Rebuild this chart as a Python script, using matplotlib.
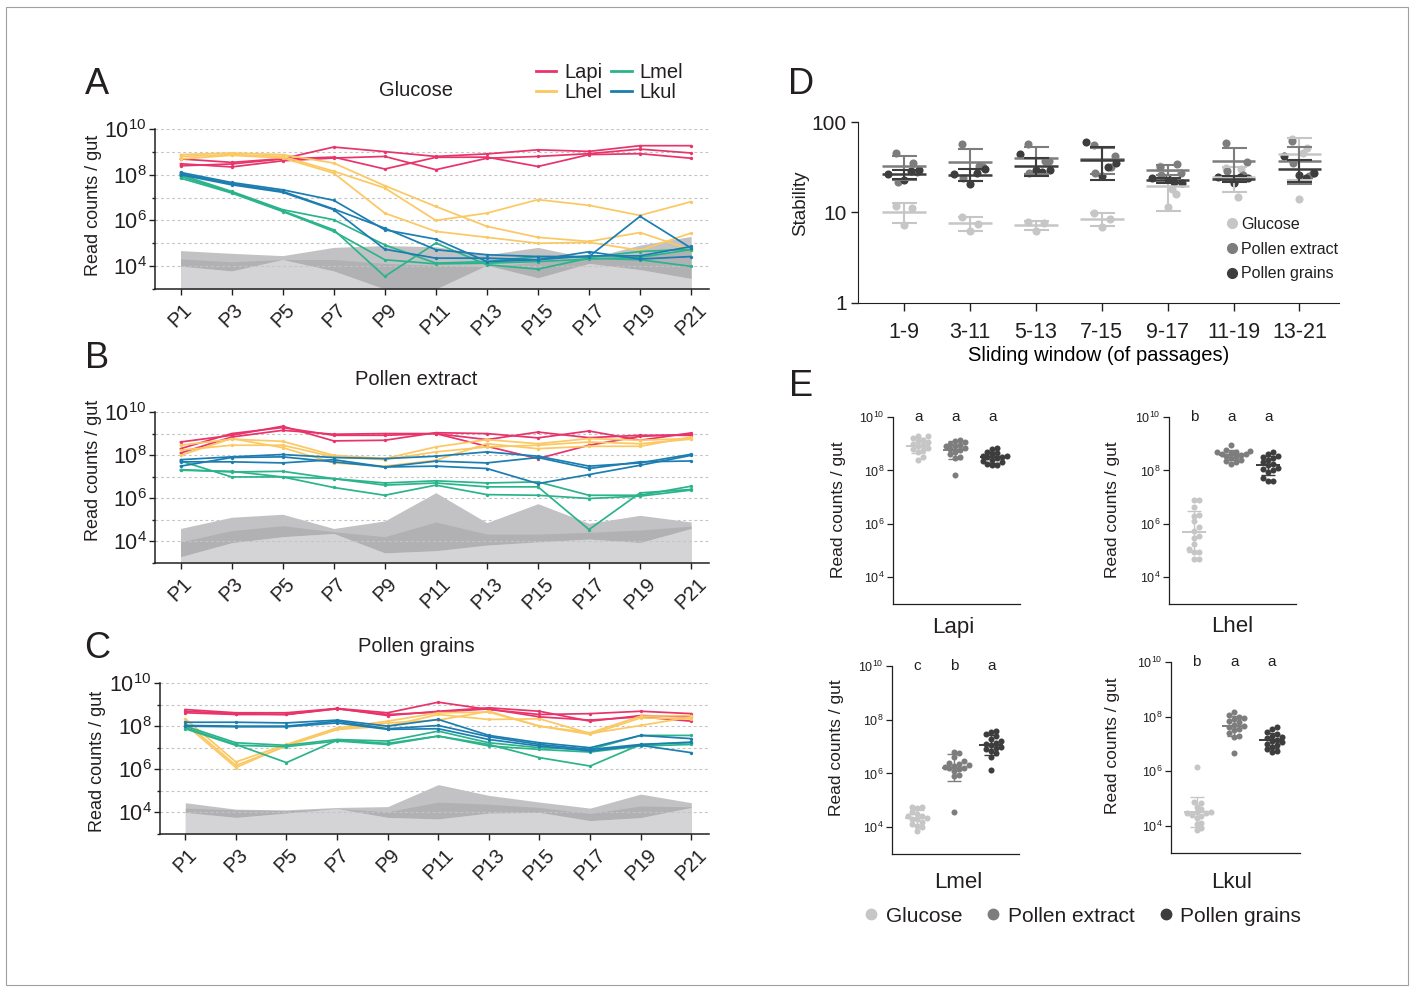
import numpy as np
import matplotlib
matplotlib.use("agg")
import matplotlib.pyplot as plt
from matplotlib.lines import Line2D
from matplotlib.patches import Rectangle
from matplotlib.ticker import FixedLocator, NullFormatter, NullLocator

plt.rcParams['font.family'] = ['Liberation Sans', 'DejaVu Sans']
plt.rcParams['mathtext.fontset'] = 'custom'
plt.rcParams['mathtext.rm'] = 'Liberation Sans'
plt.rcParams['mathtext.it'] = 'Liberation Sans:italic'
plt.rcParams['mathtext.bf'] = 'Liberation Sans:bold'
plt.rcParams['text.color'] = '#231f20'
plt.rcParams['axes.edgecolor'] = '#231f20'
plt.rcParams['xtick.color'] = '#231f20'
plt.rcParams['ytick.color'] = '#231f20'

# ---------------- data ----------------
passages = ['P1', 'P3', 'P5', 'P7', 'P9', 'P11', 'P13', 'P15', 'P17', 'P19', 'P21']
species = ['Lapi', 'Lhel', 'Lmel', 'Lkul']
sp_colors = ['#e8336b', '#fbc862', '#2bb48b', '#1b7db0']

# log10(read counts / gut), three replicate lines per species
glu_lapi = [[8.69, 8.54, 8.70, 9.21, 9.01, 8.80, 8.91, 9.09, 9.02, 9.27, 9.27],
            [8.48, 8.34, 8.61, 8.73, 8.80, 8.22, 8.72, 8.80, 8.92, 9.12, 8.95],
            [8.39, 8.47, 8.69, 8.77, 8.25, 8.76, 8.77, 8.36, 8.88, 8.92, 8.72]]
glu_lhel = [[8.88, 8.95, 8.88, 8.51, 7.52, 6.61, 5.74, 5.26, 5.08, 5.47, 4.72],
            [8.80, 8.88, 8.80, 8.15, 7.42, 6.00, 6.32, 6.91, 6.66, 6.22, 6.82],
            [8.69, 8.85, 8.73, 8.07, 6.32, 5.52, 5.26, 5.00, 5.04, 4.69, 5.45]]
glu_lmel = [[8.00, 7.27, 6.47, 6.03, 4.93, 4.13, 4.20, 4.42, 4.38, 4.64, 4.74],
            [7.93, 7.23, 6.42, 5.59, 3.55, 5.01, 4.06, 3.87, 4.35, 4.28, 3.99],
            [7.85, 7.20, 6.39, 5.52, 4.28, 4.10, 4.13, 4.20, 4.31, 4.39, 4.72]]
glu_lkul = [[8.10, 7.66, 7.34, 6.88, 5.59, 5.18, 4.20, 4.28, 4.63, 4.31, 4.42],
            [8.04, 7.61, 7.27, 6.50, 5.66, 4.72, 4.50, 4.42, 4.42, 6.18, 4.79],
            [8.00, 7.56, 7.23, 6.47, 4.74, 4.35, 4.35, 4.28, 4.45, 4.45, 4.86]]
glu_bg_hi = [4.68, 4.56, 4.46, 4.82, 4.90, 4.85, 4.50, 4.82, 4.35, 4.92, 5.30]
glu_bg_mid = [4.32, 4.19, 4.29, 4.29, 4.12, 4.04, 3.97, 4.19, 4.34, 4.41, 4.70]
glu_bg_lo = [4.00, 3.79, 4.29, 3.79, 3.00, 3.00, 4.04, 3.49, 4.12, 3.85, 3.46]

ext_lapi = [[8.61, 8.92, 9.34, 8.66, 8.69, 9.04, 9.00, 8.80, 9.12, 8.69, 9.03],
            [8.30, 9.00, 9.28, 8.92, 8.92, 9.00, 8.72, 9.07, 8.81, 8.92, 8.92],
            [8.10, 8.84, 9.15, 8.97, 9.00, 9.00, 8.41, 7.84, 8.46, 8.87, 8.97]]
ext_lhel = [[8.46, 8.74, 8.64, 7.99, 7.84, 8.38, 8.72, 8.53, 8.77, 8.69, 8.77],
            [8.23, 8.46, 8.46, 7.92, 7.79, 8.15, 8.38, 8.46, 8.61, 8.53, 8.74],
            [7.99, 8.77, 8.35, 7.64, 7.49, 7.76, 8.53, 8.30, 8.41, 8.41, 8.84]]
ext_lmel = [[7.73, 6.99, 6.99, 6.91, 6.71, 6.81, 6.71, 6.76, 6.14, 6.14, 6.56],
            [7.33, 7.22, 7.25, 6.91, 6.61, 6.71, 6.53, 6.53, 4.55, 6.25, 6.41],
            [7.30, 7.25, 6.99, 6.50, 6.14, 6.61, 6.17, 6.14, 5.99, 6.10, 6.38]]
ext_lkul = [[7.79, 7.92, 8.03, 7.89, 7.84, 7.95, 8.15, 7.95, 7.49, 7.64, 8.04],
            [7.69, 7.69, 7.64, 7.79, 7.45, 7.72, 7.64, 7.89, 7.38, 7.69, 7.73],
            [7.49, 7.89, 7.92, 7.69, 7.45, 7.49, 7.38, 6.68, 7.10, 7.53, 7.99]]
ext_bg_hi = [4.60, 5.12, 5.26, 4.60, 4.95, 6.26, 4.87, 5.75, 4.84, 5.21, 4.90]
ext_bg_mid = [3.98, 4.50, 4.73, 4.45, 4.22, 4.90, 4.34, 4.34, 4.42, 4.53, 4.71]
ext_bg_lo = [3.29, 3.94, 4.22, 4.37, 3.47, 3.57, 3.83, 3.98, 4.11, 3.95, 4.60]

grn_lapi = [[8.77, 8.62, 8.62, 8.82, 8.62, 9.11, 8.77, 8.54, 8.58, 8.69, 8.58],
            [8.69, 8.58, 8.54, 8.82, 8.49, 8.69, 8.85, 8.69, 8.23, 8.49, 8.43],
            [8.62, 8.54, 8.54, 8.80, 8.54, 8.65, 8.80, 8.43, 8.28, 8.43, 8.23]]
grn_lhel = [[8.34, 6.34, 7.15, 7.92, 8.23, 8.62, 8.65, 8.00, 7.69, 8.46, 8.49],
            [8.18, 6.18, 7.08, 7.85, 8.00, 8.54, 8.31, 8.34, 7.66, 8.03, 8.43],
            [8.08, 6.08, 7.11, 7.85, 8.15, 8.28, 8.69, 8.00, 7.62, 8.38, 8.34]]
grn_lmel = [[8.00, 7.23, 7.11, 7.38, 7.31, 7.77, 7.23, 7.00, 6.92, 7.57, 7.57],
            [7.92, 7.15, 6.31, 7.35, 7.20, 7.54, 7.15, 6.54, 6.15, 7.15, 7.23],
            [7.88, 7.11, 7.05, 7.31, 7.15, 7.54, 7.08, 6.92, 6.80, 7.08, 7.15]]
grn_lkul = [[8.18, 8.18, 8.15, 8.28, 8.00, 8.31, 7.57, 7.23, 7.00, 7.57, 7.42],
            [8.03, 8.00, 8.00, 8.23, 7.88, 8.03, 7.51, 7.15, 6.92, 7.15, 7.26],
            [8.00, 7.97, 7.97, 8.15, 7.85, 7.88, 7.38, 7.08, 6.85, 7.11, 6.77]]
grn_bg_hi = [4.45, 4.15, 4.12, 4.23, 4.27, 5.29, 4.79, 4.48, 4.20, 4.85, 4.45]
grn_bg_mid = [4.20, 4.12, 4.08, 4.18, 4.03, 4.48, 4.38, 4.23, 3.95, 4.30, 4.26]
grn_bg_lo = [4.00, 3.77, 3.97, 4.18, 3.77, 3.70, 3.97, 4.00, 3.62, 3.76, 4.23]

# panel D: stability per sliding window
windows = ['1-9', '3-11', '5-13', '7-15', '9-17', '11-19', '13-21']
stab_glucose = [[11.9, 11.2, 7.2], [9.0, 7.4, 6.3], [7.8, 7.7, 6.2], [9.9, 8.5, 7.0],
                [33, 16.1, 11.4, 18], [31, 30, 22, 15], [65, 52, 14, 46]]
stab_extract = [[45, 35, 22, 28], [57, 33, 24, 32], [57.5, 36.7, 27.2, 37], [56, 31.8, 27.2, 42],
                [31.8, 34.3, 26.1, 27], [58.6, 26.1, 28.9, 36], [61, 25, 35, 27]]
stab_grains = [[26.3, 29.2, 22.6, 28.5], [26.8, 30.4, 20.6, 27], [44, 29.6, 29.6, 28], [60, 35.2, 25.5, 32],
               [24, 21.1, 23.5, 21.8], [24.5, 24, 21.1, 24.5], [42.4, 27.2, 26.1, 24]]

# panel E: log10(read counts / gut) per strain and diet
conditions = ['Glucose', 'Pollen extract', 'Pollen grains']
cond_colors = ['#c6c6c6', '#7d7d7d', '#3d3d3d']

e_lapi_glu = [9.3, 9.3, 9.2, 9.15, 9.1, 9.05, 9.0, 8.95, 8.9, 8.85, 8.8, 8.75, 8.7, 8.5, 8.4]
e_lapi_ext = [9.15, 9.1, 9.05, 9.0, 8.95, 8.9, 8.9, 8.85, 8.8, 8.75, 8.7, 8.6, 8.5, 8.45, 7.82]
e_lapi_grn = [8.85, 8.8, 8.7, 8.65, 8.6, 8.55, 8.55, 8.5, 8.5, 8.45, 8.4, 8.35, 8.3, 8.25, 8.2, 8.2]
e_lhel_glu = [6.9, 6.9, 6.64, 6.33, 6.31, 6.1, 5.9, 5.75, 5.53, 5.48, 5.23, 5.05, 4.95, 4.95, 4.7, 4.7]
e_lhel_ext = [8.95, 8.75, 8.72, 8.7, 8.68, 8.65, 8.62, 8.6, 8.58, 8.55, 8.5, 8.45, 8.4, 8.35, 8.3, 8.25]
e_lhel_grn = [8.7, 8.6, 8.55, 8.5, 8.45, 8.4, 8.3, 8.25, 8.2, 8.1, 8.05, 8.0, 7.95, 7.7, 7.62, 7.6]
e_lmel_glu = [4.75, 4.75, 4.7, 4.55, 4.5, 4.4, 4.4, 4.35, 4.3, 4.3, 4.2, 4.1, 4.05, 4.0, 3.85]
e_lmel_ext = [6.8, 6.75, 6.6, 6.45, 6.4, 6.35, 6.3, 6.28, 6.25, 6.22, 6.2, 6.15, 6.1, 5.95, 5.9, 4.57]
e_lmel_grn = [7.58, 7.55, 7.45, 7.4, 7.3, 7.2, 7.15, 7.1, 7.05, 7.0, 6.95, 6.9, 6.85, 6.75, 6.62, 6.11]
e_lkul_glu = [6.16, 4.87, 4.85, 4.7, 4.6, 4.5, 4.5, 4.45, 4.45, 4.4, 4.35, 4.3, 4.1, 4.05, 3.9, 3.85]
e_lkul_ext = [8.15, 8.05, 8.0, 7.95, 7.9, 7.85, 7.8, 7.7, 7.65, 7.6, 7.55, 7.5, 7.4, 7.3, 7.25, 6.67]
e_lkul_grn = [7.6, 7.55, 7.45, 7.35, 7.3, 7.25, 7.2, 7.15, 7.1, 7.05, 7.0, 6.95, 6.9, 6.8, 6.75, 6.7]
letters_lapi = ['a', 'a', 'a']
letters_lhel = ['b', 'a', 'a']
letters_lmel = ['c', 'b', 'a']
letters_lkul = ['b', 'a', 'a']

# ---------------- layout helpers (pixel positions of the 1412x988 canvas) ----------------
W, H = 1412, 988


def fx(px):
    return px / W


def fy(py):
    return 1 - py / H


def rect(left, top, right, bottom):
    return [fx(left), fy(bottom), (right - left) / W, (bottom - top) / H]


def pow_labels(exps):
    return [r'$\mathregular{10^{%d}}$' % e for e in exps]


fig = plt.figure(figsize=(W / 100, H / 100), dpi=100)
fig.patches.append(Rectangle((fx(6), fy(985)), fx(1408) - fx(6), (985 - 7) / H,
                             transform=fig.transFigure, fill=False,
                             edgecolor='#a0a0a0', lw=0.8))


def timecourse(box, lines, bg_hi, bg_mid, bg_lo):
    ax = fig.add_axes(box)
    x = np.arange(len(passages))
    floor = np.full(len(x), 1e3)
    # background (control) shading, three layers
    ax.fill_between(x, floor, np.power(10.0, bg_hi), color='#c2c2c4', lw=0, zorder=0.1)
    ax.fill_between(x, np.power(10.0, bg_lo), np.power(10.0, bg_mid), color='#b1b1b4', lw=0, zorder=0.2)
    ax.fill_between(x, floor, np.power(10.0, bg_lo), color='#d4d4d6', lw=0, zorder=0.3)
    for reps, col in zip(lines, sp_colors):
        for r in reps:
            ax.plot(x, np.power(10.0, r), color=col, lw=1.25, marker='o', ms=2.4,
                    mew=0, zorder=2)
    ax.set_yscale('log')
    ax.set_ylim(1e3, 1e10)
    ax.set_xlim(-0.5, 10.35)
    ax.set_yticks([1e4, 1e6, 1e8, 1e10])
    ax.set_yticklabels(pow_labels([4, 6, 8, 10]))
    ax.yaxis.set_minor_locator(FixedLocator([1e3, 1e5, 1e7, 1e9]))
    ax.yaxis.set_minor_formatter(NullFormatter())
    ax.set_xticks(x)
    ax.set_xticklabels(passages, rotation=45)
    ax.tick_params(axis='y', which='major', length=4, width=1, labelsize=15.5, pad=2)
    ax.tick_params(axis='y', which='minor', length=2.5, width=1)
    ax.tick_params(axis='x', length=4, width=1, labelsize=14.5, pad=4)
    ax.grid(axis='y', which='both', color='#c4c4c4', ls=(0, (2.5, 2.5)), lw=0.8)
    ax.set_axisbelow(True)
    for s in ('top', 'right'):
        ax.spines[s].set_visible(False)
    ax.spines['left'].set_linewidth(1.1)
    ax.spines['bottom'].set_linewidth(1.1)
    return ax


timecourse(rect(155, 129, 709, 289), [glu_lapi, glu_lhel, glu_lmel, glu_lkul],
           glu_bg_hi, glu_bg_mid, glu_bg_lo)
timecourse(rect(155, 412, 709, 563), [ext_lapi, ext_lhel, ext_lmel, ext_lkul],
           ext_bg_hi, ext_bg_mid, ext_bg_lo)
timecourse(rect(160, 683, 709, 834), [grn_lapi, grn_lhel, grn_lmel, grn_lkul],
           grn_bg_hi, grn_bg_mid, grn_bg_lo)

for txt, x, y in (('Glucose', 416, 90), ('Pollen extract', 416, 379), ('Pollen grains', 416, 646)):
    fig.text(fx(x), fy(y), txt, fontsize=14.5, ha='center', va='center')
for x, y in ((93, 205), (93, 470), (97, 761)):
    fig.text(fx(x), fy(y), 'Read counts / gut', rotation=90, fontsize=13,
             ha='center', va='center')

sp_handles = [Line2D([], [], color=c, lw=2) for c in sp_colors]
fig.legend(sp_handles, species, ncol=2, loc='upper left', bbox_to_anchor=(fx(536), fy(63)),
           frameon=False, fontsize=14.5, handlelength=1.0, handletextpad=0.4,
           columnspacing=0.45, labelspacing=0.05, borderpad=0, borderaxespad=0)

# ---------------- panel D ----------------
axd = fig.add_axes(rect(858, 122, 1339, 303))
jitter = [[-0.12, 0.12, 0.0, 0.06], [-0.12, 0.14, -0.1, 0.2], [-0.24, 0.22, 0.0, 0.1]]
for vals_all, col, offs in zip((stab_glucose, stab_extract, stab_grains), cond_colors, jitter):
    for i, vals in enumerate(vals_all):
        v = np.array(vals, dtype=float)
        axd.scatter(i + np.array(offs[:len(v)]), v, s=34, color=col, lw=0, zorder=3)
        m, sd = v.mean(), v.std(ddof=1)
        axd.hlines(m, i - 0.33, i + 0.33, color=col, lw=1.8, zorder=4)
        axd.errorbar(i, m, yerr=sd, color=col, lw=1.5, capsize=9, capthick=1.5, zorder=4)
axd.set_yscale('log')
axd.set_ylim(1, 100)
axd.set_xlim(-0.7, 6.6)
axd.set_yticks([1, 10, 100])
axd.set_yticklabels(['1', '10', '100'])
axd.yaxis.set_minor_locator(NullLocator())
axd.set_xticks(range(len(windows)))
axd.set_xticklabels(windows)
axd.tick_params(axis='y', length=5, width=1, labelsize=15, pad=3)
axd.tick_params(axis='x', length=6, width=1, labelsize=15.5, pad=8)
axd.set_xlabel('Sliding window (of passages)', fontsize=14.5, labelpad=2)
for s in ('top', 'right'):
    axd.spines[s].set_visible(False)
fig.text(fx(801), fy(203), 'Stability', rotation=90, fontsize=13.5, ha='center', va='center')
cond_handles = [Line2D([], [], ls='none', marker='o', ms=7, color=c) for c in cond_colors]
fig.legend(cond_handles, conditions, loc='upper left', bbox_to_anchor=(fx(1226), fy(217)),
           frameon=False, fontsize=11.5, handlelength=0.8, handletextpad=0.15,
           labelspacing=0.6, borderpad=0, borderaxespad=0)


# ---------------- panel E ----------------
def swarm(v, px_x=37.0, px_y=26.7, d=6.0):
    # greedy bee-swarm placement, points may overlap a little
    order = np.argsort(v)
    placed = []
    offs = np.zeros(len(v))
    for idx in order:
        y = v[idx] * px_y
        for k in range(80):
            cx = ((k + 1) // 2) * (1 if k % 2 else -1) * d * 0.4
            if all((cx - px) ** 2 + (y - py) ** 2 >= (d * 0.78) ** 2 for px, py in placed):
                break
        placed.append((cx, y))
        offs[idx] = cx / px_x
    return offs


def strain_panel(box, groups, letters):
    ax = fig.add_axes(box)
    for i, (vals, col) in enumerate(zip(groups, cond_colors)):
        v = np.array(vals, dtype=float)
        ax.scatter(i + swarm(v), np.power(10.0, v), s=19, color=col, lw=0, zorder=3)
        m, sd = v.mean(), v.std(ddof=1)
        ax.hlines(10 ** m, i - 0.33, i + 0.33, color=col, lw=1.4, zorder=4)
        ax.errorbar(i, 10 ** m, yerr=[[10 ** m - 10 ** (m - sd)], [10 ** (m + sd) - 10 ** m]],
                    color=col, lw=1.0, capsize=5, capthick=1.0, zorder=4)
        ax.text(i, 1e10, letters[i], ha='center', va='center', fontsize=11, clip_on=False)
    ax.set_yscale('log')
    ax.set_ylim(1e3, 1e10)
    ax.set_xlim(-0.68, 2.75)
    ax.set_yticks([1e4, 1e6, 1e8, 1e10])
    ax.set_yticklabels(pow_labels([4, 6, 8, 10]))
    ax.yaxis.set_minor_locator(NullLocator())
    ax.set_xticks([])
    ax.tick_params(axis='y', length=4, width=0.9, labelsize=9, pad=2)
    for s in ('top', 'right'):
        ax.spines[s].set_visible(False)
    ax.spines['left'].set_linewidth(0.9)
    ax.spines['bottom'].set_linewidth(0.9)
    return ax


strain_panel(rect(893, 417, 1020, 604), [e_lapi_glu, e_lapi_ext, e_lapi_grn], letters_lapi)
strain_panel(rect(1169, 417, 1296, 604), [e_lhel_glu, e_lhel_ext, e_lhel_grn], letters_lhel)
strain_panel(rect(892, 666, 1019, 854), [e_lmel_glu, e_lmel_ext, e_lmel_grn], letters_lmel)
strain_panel(rect(1171, 662, 1300, 853), [e_lkul_glu, e_lkul_ext, e_lkul_grn], letters_lkul)

for name, x, y in (('Lapi', 953, 627), ('Lhel', 1232, 627), ('Lmel', 958, 882), ('Lkul', 1232, 882)):
    fig.text(fx(x), fy(y), name, fontsize=16, ha='center', va='center')
for x, y in ((838, 510), (1113, 510), (837, 748), (1113, 746)):
    fig.text(fx(x), fy(y), 'Read counts / gut', rotation=90, fontsize=12.5,
             ha='center', va='center')

fig.legend([Line2D([], [], ls='none', marker='o', ms=7.5, color=c) for c in cond_colors],
           conditions, ncol=3, loc='center', bbox_to_anchor=(fx(1082), fy(916)),
           frameon=False, fontsize=15, handlelength=0.8, handletextpad=0.3,
           columnspacing=1.1, borderpad=0, borderaxespad=0)

# panel letters
for letter, x, y in (('A', 97, 84), ('B', 97, 358), ('C', 97, 648), ('D', 801, 85), ('E', 801, 386)):
    fig.text(fx(x), fy(y), letter, fontsize=26, ha='center', va='center')

fig.savefig('out.png', dpi=100)
